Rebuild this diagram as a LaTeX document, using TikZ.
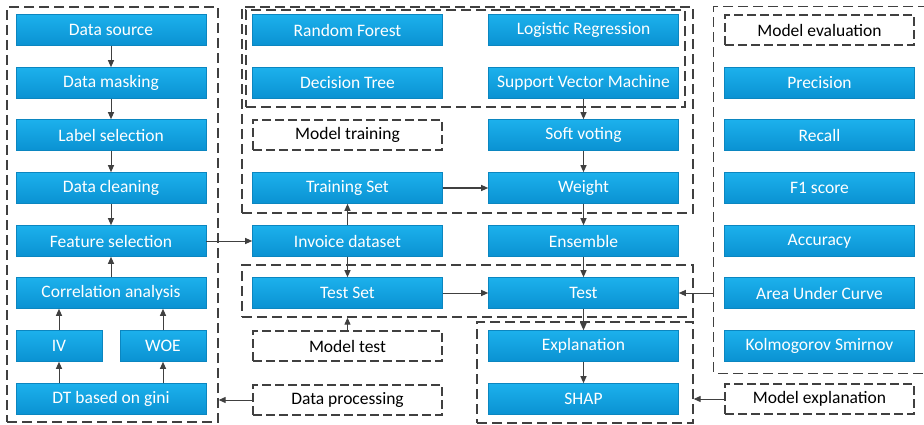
\documentclass[tikz,border=0pt]{standalone}
\usepackage{fontspec}
\setmainfont{Carlito}
\usetikzlibrary{arrows.meta}

\definecolor{boxtop}{HTML}{1CB0EC}
\definecolor{boxbot}{HTML}{0A92D2}
\definecolor{boxedge}{HTML}{0B86C0}
\definecolor{lineclr}{HTML}{404040}

\tikzset{
  blk/.style={rectangle, minimum width=190pt, minimum height=31pt, inner sep=0pt,
    top color=boxtop, bottom color=boxbot, draw=boxedge, line width=0.6pt,
    text=white, font=\fontsize{17.5}{19}\selectfont},
  halfblk/.style={blk, minimum width=86pt},
  lbl/.style={rectangle, minimum width=189pt, minimum height=30pt, inner sep=0pt,
    draw=lineclr, line width=1.3pt, dash pattern=on 9pt off 4pt, fill=white,
    text=black, font=\fontsize{17.5}{19}\selectfont},
  grp/.style={rectangle, inner sep=0pt, draw=lineclr, line width=1.3pt,
    dash pattern=on 10pt off 5pt},
  arr/.style={draw=lineclr, line width=1pt, -{Triangle[length=7pt,width=6pt]}},
}

\begin{document}
\begin{tikzpicture}[x=1pt, y=-1pt]
\fill[white] (0,0) rectangle (924,425);
\useasboundingbox (0,0) rectangle (924,425);

% group frames
\node[grp, minimum width=211pt, minimum height=415pt] (gLeft) at (112.5,214.5) {};
\node[grp, minimum width=451pt, minimum height=206pt] (gTrain) at (467.5,110) {};
\node[grp, minimum width=439pt, minimum height=97pt] (gModels) at (465.5,58.5) {};
\node[grp, minimum width=451pt, minimum height=52pt] (gTest) at (467.5,291) {};
\node[grp, minimum width=216pt, minimum height=101pt] (gExp) at (585,372.5) {};
\node[inner sep=0pt, minimum width=214pt, minimum height=366pt] (gEval) at (821,190) {};
\draw[lineclr, line width=1.3pt, dash pattern=on 10pt off 5pt]
  (gEval.north east) -- (gEval.north west) -- (gEval.south west) -- (gEval.south east);

% data processing column
\node[blk] (src)   at (111,30)  {Data source};
\node[blk] (mask)  at (111,83)  {Data masking};
\node[blk] (label) at (111,135) {Label selection};
\node[blk] (clean) at (111,188) {Data cleaning};
\node[blk] (feat)  at (111,241) {Feature selection};
\node[blk] (corr)  at (111,293) {Correlation analysis};
\node[halfblk] (iv)  at (59,346)  {IV};
\node[halfblk] (woe) at (163,346) {WOE};
\node[blk] (gini)  at (111,399) {DT based on gini};

% models and data sets
\node[blk] (rf)    at (347.5,30)  {Random Forest};
\node[blk] (lr)    at (583.5,30)  {Logistic Regression};
\node[blk] (dt)    at (347.5,83)  {Decision Tree};
\node[blk] (svm)   at (583.5,83)  {Support Vector Machine};
\node[lbl] (mtrain) at (347.5,135) {Model training};
\node[blk] (soft)  at (583.5,135) {Soft voting};
\node[blk] (train) at (347.5,188) {Training Set};
\node[blk] (weight) at (583.5,188) {Weight};
\node[blk] (inv)   at (347.5,241) {Invoice dataset};
\node[blk] (ens)   at (583.5,241) {Ensemble};
\node[blk] (tset)  at (347.5,293) {Test Set};
\node[blk] (test)  at (583.5,293) {Test};
\node[lbl] (mtest) at (347.5,346) {Model test};
\node[blk] (expl)  at (583.5,346) {Explanation};
\node[lbl] (dproc) at (347.5,400) {Data processing};
\node[blk] (shap)  at (583.5,399) {SHAP};

% evaluation metrics
\node[lbl] (meval) at (819.5,30) {Model evaluation};
\node[blk] (prec)  at (819.5,83)  {Precision};
\node[blk] (rec)   at (819.5,135) {Recall};
\node[blk] (f1)    at (819.5,188) {F1 score};
\node[blk] (acc)   at (819.5,241) {Accuracy};
\node[blk] (auc)   at (819.5,293) {Area Under Curve};
\node[blk] (ks)    at (819.5,346) {Kolmogorov Smirnov};
\node[lbl] (mexp)  at (819.5,399) {Model explanation};

% preprocessing flow
\draw[arr] (src) -- (mask);
\draw[arr] (mask) -- (label);
\draw[arr] (label) -- (clean);
\draw[arr] (clean) -- (feat);
\draw[arr] (gini.north -| iv) -- (iv);
\draw[arr] (gini.north -| woe) -- (woe);
\draw[arr] (iv) -- (corr.south -| iv);
\draw[arr] (woe) -- (corr.south -| woe);
\draw[arr] (corr) -- (feat);
\draw[arr] (feat) -- (inv);

% training and testing flow
\draw[arr] (inv) -- (train);
\draw[arr] (inv) -- (tset);
\draw[arr] (train) -- (weight);
\draw[arr] (svm) -- (soft);
\draw[arr] (soft) -- (weight);
\draw[arr] (weight) -- (ens);
\draw[arr] (ens) -- (test);
\draw[arr] (tset) -- (test);
\draw[arr] (test) -- (expl);
\draw[arr] (expl) -- (shap);

% links from the labels and groups
\draw[arr] (mtest) -- (mtest |- gTest.south);
\draw[arr] (dproc) -- (gLeft.east |- dproc);
\draw[arr] (gEval.west |- test) -- (test);
\draw[arr] (mexp) -- (gExp.east |- mexp);
\end{tikzpicture}
\end{document}
